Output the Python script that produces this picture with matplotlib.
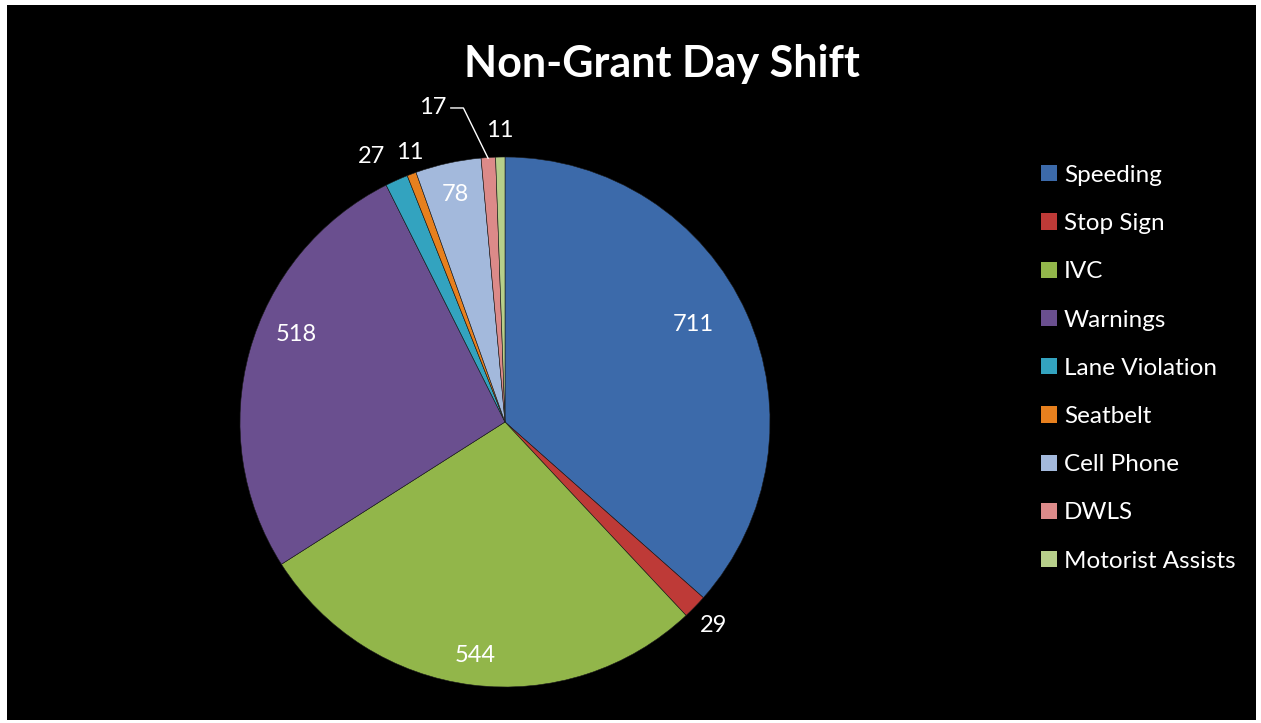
import matplotlib
matplotlib.use("Agg")
import matplotlib.pyplot as plt
import numpy as np
from matplotlib.patches import Rectangle, Patch

categories = ["Speeding", "Stop Sign", "IVC", "Warnings", "Lane Violation",
              "Seatbelt", "Cell Phone", "DWLS", "Motorist Assists"]
values = [711, 29, 544, 518, 27, 11, 78, 17, 11]
colors = ["#3C6AAA", "#BE3A37", "#92B64A", "#6A4F8F", "#33A3BF",
          "#E7801E", "#A3B9DC", "#DC8A89", "#B7CF8A"]
label_dist = [0.80, 1.10, 0.89, 0.853, 1.12, 1.08, 0.88, None, 1.10]
label_shift = [3, 0, 0, -7.2, 2.5, -1.2, 0, 0, 0]

W, H = 1261, 723
fig = plt.figure(figsize=(W / 100, H / 100), dpi=100, facecolor="white")
fig.patches.append(Rectangle((7 / W, 3 / H), 1249 / W, 715 / H,
                             transform=fig.transFigure, facecolor="black",
                             edgecolor="none", zorder=-10))

cx, cy, R = 505, 422, 265
ax = fig.add_axes([(cx - R) / W, (H - cy - R) / H, 2 * R / W, 2 * R / H])
ax.set_zorder(1)
ax.set_facecolor("none")
wedges, _ = ax.pie(values, colors=colors, startangle=90, counterclock=False,
                   radius=1.0, wedgeprops=dict(edgecolor="#1a1a1a", linewidth=0.4))
ax.set_xlim(-1, 1)
ax.set_ylim(-1, 1)
ax.set_aspect("equal")
ax.axis("off")

font = "Lato"
fs = 17
for w, v, d, s in zip(wedges, values, label_dist, label_shift):
    ang = np.deg2rad((w.theta1 + w.theta2) / 2 + s)
    if d is None:
        ex, ey = np.cos(ang), np.sin(ang)
        lx, ly = -0.272, 1.185
        ax.text(lx, ly, str(v), color="white", fontsize=fs, family=font,
                ha="center", va="center")
        ax.plot([lx + 0.065, lx + 0.115, ex * 0.995], [ly, ly, ey * 0.995],
                color="white", lw=1.0, clip_on=False, solid_capstyle="butt")
        continue
    ax.text(d * np.cos(ang), d * np.sin(ang), str(v), color="white", fontsize=fs,
            family=font, ha="center", va="center")

fig.text(662 / W, 1 - 64 / H, "Non-Grant Day Shift", color="white", fontsize=31,
         fontweight="bold", family=font, ha="center", va="center")

handles = [Patch(facecolor=c, edgecolor="none") for c in colors]
leg = fig.legend(handles, categories, loc="upper left",
                 bbox_to_anchor=(1019 / W, 1 - 143 / H), frameon=False,
                 labelspacing=1.12, handlelength=0.65, handleheight=0.65,
                 handletextpad=0.3, prop=dict(family=font, size=17.5))
for t in leg.get_texts():
    t.set_color("white")

fig.savefig("out.png", dpi=100, facecolor="white")
